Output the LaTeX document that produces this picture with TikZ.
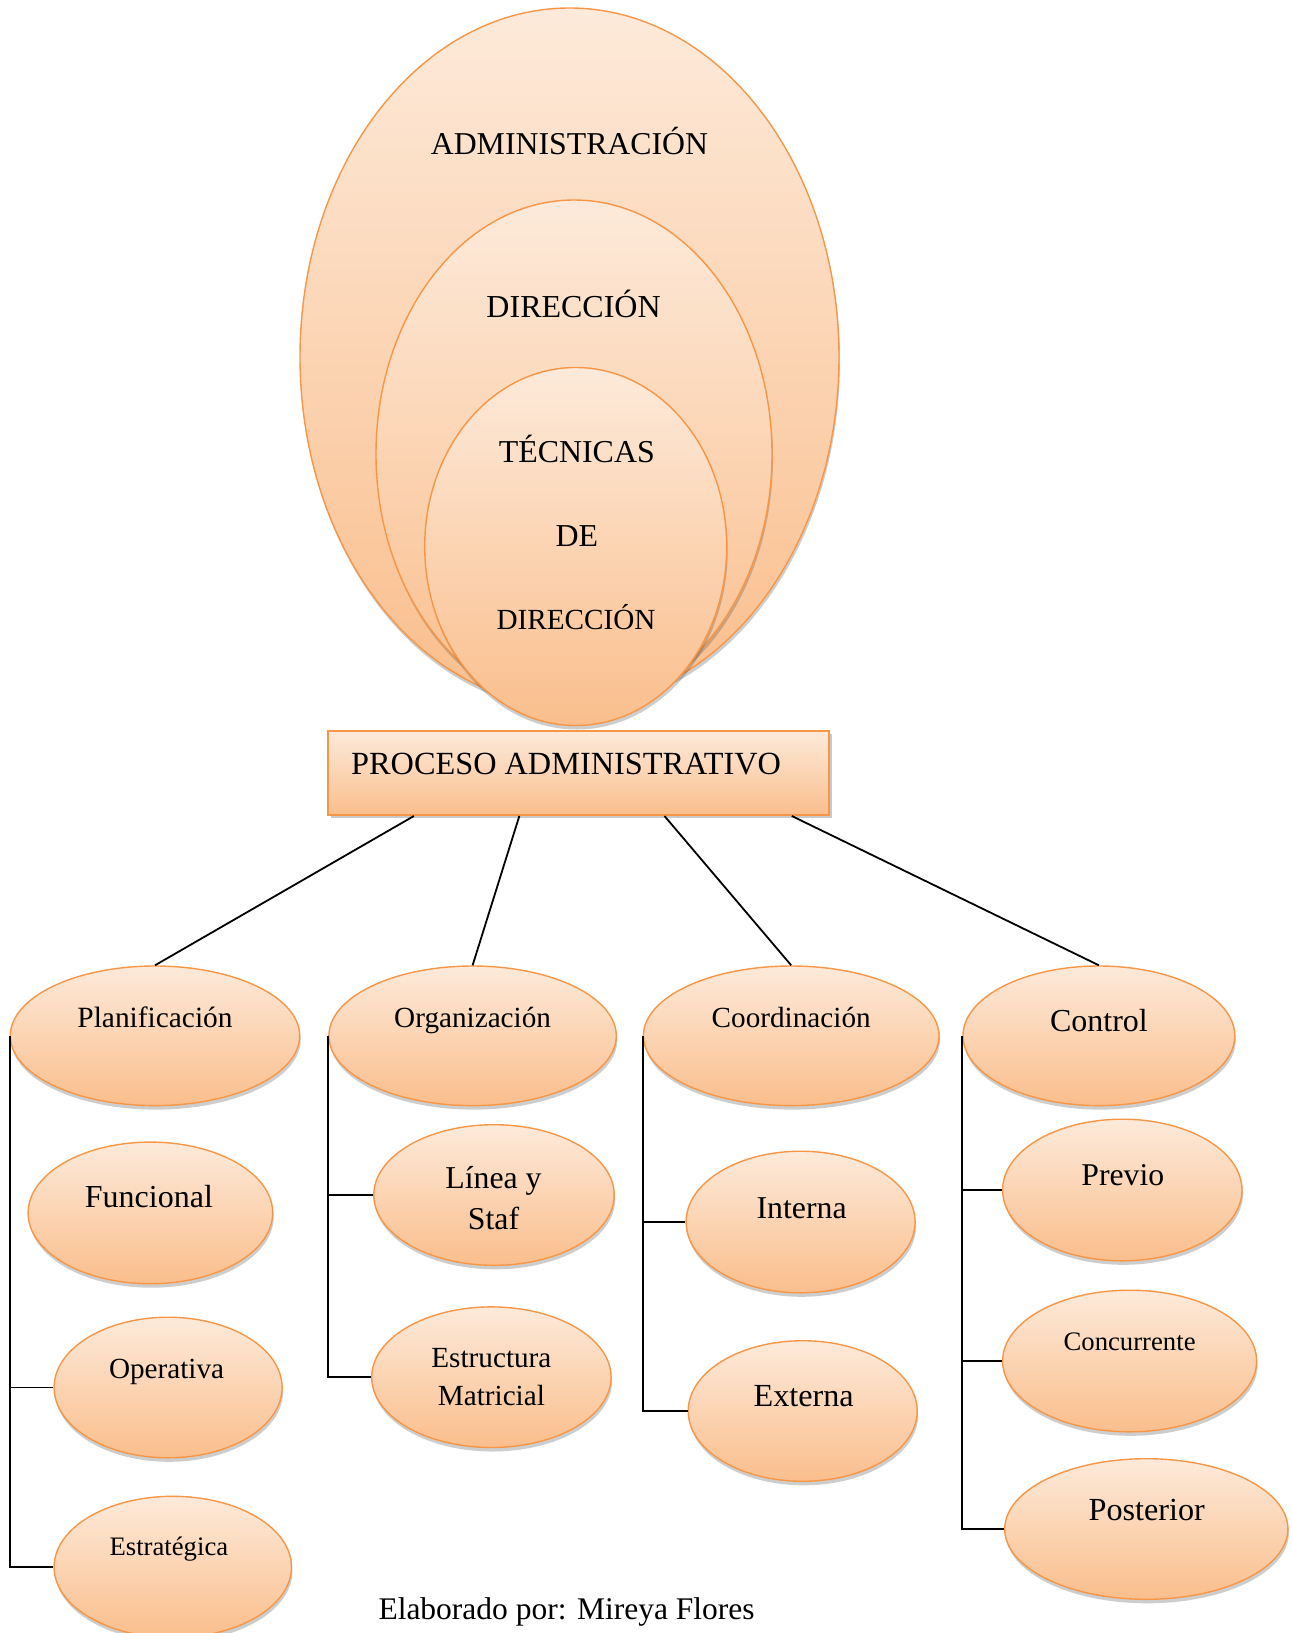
\documentclass[tikz,border=0pt]{standalone}
\usepackage{fontspec}
\setmainfont{Liberation Serif}
\usetikzlibrary{shapes.geometric,shadows,calc}
\definecolor{peachtop}{RGB}{253,234,218}
\definecolor{peachbot}{RGB}{250,190,140}
\definecolor{edgeorange}{RGB}{247,150,70}
\newcommand\fsz[1]{\fontsize{#1}{#1}\selectfont}
\begin{document}
\begin{tikzpicture}[x=1pt,y=-1pt,
  oval/.style={ellipse, draw=edgeorange, line width=1.4pt,
    top color=peachtop, bottom color=peachbot, inner sep=0pt,
    drop shadow={shadow xshift=1pt, shadow yshift=-4pt, opacity=0.28, fill=black!70}},
  procbox/.style={rectangle, draw=edgeorange, line width=1.6pt,
    top color=peachtop, bottom color=peachbot, inner sep=0pt,
    drop shadow={shadow xshift=3pt, shadow yshift=-3pt, opacity=0.3, fill=black!70}},
  lbl/.style={anchor=base, inner sep=0pt, text=black},
  conn/.style={draw=black, line width=1.8pt}]
\useasboundingbox (0,0) rectangle (1291,1633);

% nested ovals at the top
\node[oval, minimum width=539pt, minimum height=698pt] (adm) at (569.5,357) {};
\node[oval, minimum width=396pt, minimum height=508pt] (dir) at (574,454) {};
\node[oval, minimum width=302pt, minimum height=358pt] (tec) at (575.7,546.5) {};
\node[lbl, font=\fsz{31.8}] (tadm) at (569.5,154) {ADMINISTRACIÓN};
\node[lbl, font=\fsz{32}] (tdir) at (573.6,317.5) {DIRECCIÓN};
\node[lbl, font=\fsz{31.9}] (ttec1) at (576.8,462.5) {TÉCNICAS};
\node[lbl, font=\fsz{31.9}] (ttec2) at (576.8,546.5) {DE};
\node[lbl, font=\fsz{29.2}] (ttec3) at (576,629.5) {DIRECCIÓN};

% central box
\node[procbox, minimum width=500.7pt, minimum height=84.3pt] (proc) at (578.35,773.05) {};
\node[lbl, anchor=base west, font=\fsz{32.3}] (tproc) at (351,774.3) {PROCESO ADMINISTRATIVO};

% second level
\node[oval, minimum width=289.4pt, minimum height=139.6pt] (plan) at (155,1035.8) {};
\node[oval, minimum width=287.4pt, minimum height=139.6pt] (org) at (472.6,1035.8) {};
\node[oval, minimum width=295.6pt, minimum height=139.6pt] (coord) at (791.2,1035.8) {};
\node[oval, minimum width=271.8pt, minimum height=139.6pt] (ctrl) at (1098.9,1035.8) {};
\node[lbl, font=\fsz{29.4}] (tplan) at (155,1027.3) {Planificación};
\node[lbl, font=\fsz{29.2}] (torg) at (472.6,1027) {Organización};
\node[lbl, font=\fsz{29.2}] (tcoord) at (791.2,1027) {Coordinación};
\node[lbl, font=\fsz{32}] (tctrl) at (1098.9,1031) {Control};

% third level: planning
\node[oval, minimum width=244.6pt, minimum height=141.6pt] (func) at (150.4,1212.9) {};
\node[oval, minimum width=228pt, minimum height=140.6pt] (oper) at (168.1,1387.5) {};
\node[oval, minimum width=237.4pt, minimum height=141.4pt] (estr) at (172.8,1567) {};
\node[lbl, font=\fsz{32}] (tfunc) at (148.9,1207.7) {Funcional};
\node[lbl, font=\fsz{29.2}] (toper) at (166.6,1378.4) {Operativa};
\node[lbl, font=\fsz{26.7}] (testr) at (168.9,1555) {Estratégica};

% third level: organization
\node[oval, minimum width=240.4pt, minimum height=140.6pt] (linea) at (494,1195) {};
\node[oval, minimum width=239.4pt, minimum height=140.6pt] (estm) at (491.4,1377.2) {};
\node[lbl, font=\fsz{31.8}] (tlin1) at (493.5,1188) {Línea y};
\node[lbl, font=\fsz{31.8}] (tlin2) at (493.5,1229.6) {Staf};
\node[lbl, font=\fsz{29.2}] (test1) at (491.4,1367) {Estructura};
\node[lbl, font=\fsz{29.2}] (test2) at (491.4,1405.5) {Matricial};

% third level: coordination
\node[oval, minimum width=229pt, minimum height=141.6pt] (inter) at (800.6,1222) {};
\node[oval, minimum width=229pt, minimum height=140.6pt] (exter) at (802.7,1411) {};
\node[lbl, font=\fsz{31.8}] (tinter) at (801.6,1218) {Interna};
\node[lbl, font=\fsz{32.2}] (texter) at (803.7,1406.5) {Externa};

% third level: control
\node[oval, minimum width=239.4pt, minimum height=141.6pt] (prev) at (1122.3,1190) {};
\node[oval, minimum width=254pt, minimum height=141.6pt] (conc) at (1129.6,1361) {};
\node[oval, minimum width=283.2pt, minimum height=140.6pt] (post) at (1146.3,1529) {};
\node[lbl, font=\fsz{31.7}] (tprev) at (1122.8,1185.5) {Previo};
\node[lbl, font=\fsz{26.7}] (tconc) at (1129.6,1350) {Concurrente};
\node[lbl, font=\fsz{32.2}] (tpost) at (1146.8,1520.7) {Posterior};

% connectors from the box
\coordinate (b1) at ($(proc.south west)!0.1726!(proc.south east)$);
\coordinate (b2) at ($(proc.south west)!0.3825!(proc.south east)$);
\coordinate (b3) at ($(proc.south west)!0.6715!(proc.south east)$);
\coordinate (b4) at ($(proc.south west)!0.925!(proc.south east)$);
\draw[conn] (b1) -- (plan.north);
\draw[conn] (b2) -- (org.north);
\draw[conn] (b3) -- (coord.north);
\draw[conn] (b4) -- (ctrl.north);

% trunks and branches
\draw[conn] (plan.west) -- (plan.west |- estr.west) -- (estr.west);
\draw[conn] (plan.west |- oper.west) -- (oper.west);
\draw[conn] (org.west) -- (org.west |- estm.west) -- (estm.west);
\draw[conn] (org.west |- linea.west) -- (linea.west);
\draw[conn] (coord.west) -- (coord.west |- exter.west) -- (exter.west);
\draw[conn] (coord.west |- inter.west) -- (inter.west);
\draw[conn] (ctrl.west) -- (ctrl.west |- post.west) -- (post.west);
\draw[conn] (ctrl.west |- prev.west) -- (prev.west);
\draw[conn] (ctrl.west |- conc.west) -- (conc.west);

% author line
\node[lbl, anchor=base west, font=\fsz{31.5}] (autor) at (378.3,1619.5) {Elaborado por: Mireya Flores};
\end{tikzpicture}
\end{document}
